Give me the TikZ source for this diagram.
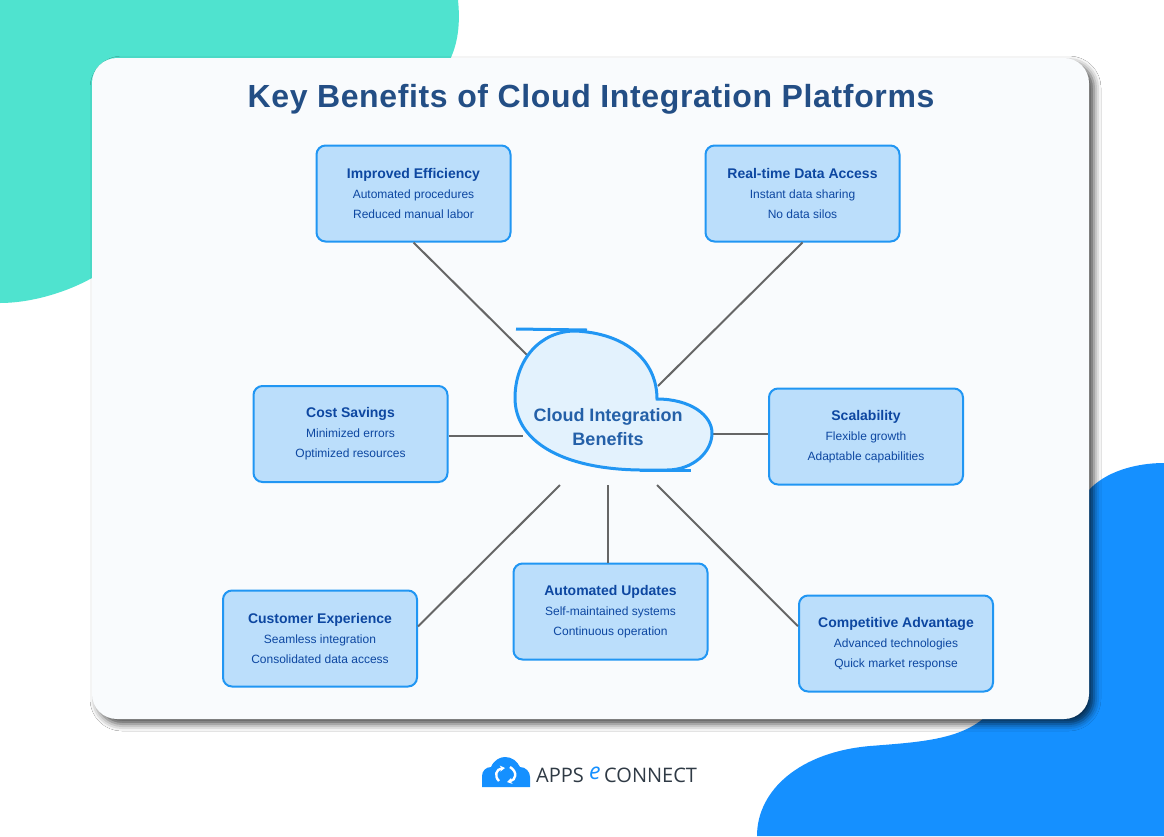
\documentclass[tikz,border=0pt]{standalone}
\usepackage{fontspec}
\setmainfont{Liberation Sans}
\newfontfamily\logofont{Open Sans}
\usetikzlibrary{shadows.blur,arrows.meta}

\definecolor{cTeal}{HTML}{4FE3CF}
\definecolor{cBlue}{HTML}{1590FF}
\definecolor{cCard}{HTML}{F9FBFD}
\definecolor{cBoxFill}{HTML}{BBDEFB}
\definecolor{cBoxLine}{HTML}{2196F3}
\definecolor{cCloudFill}{HTML}{E3F2FD}
\definecolor{cHead}{HTML}{0D47A1}
\definecolor{cTitle}{HTML}{234E85}
\definecolor{cCloudText}{HTML}{2460A8}
\definecolor{cConn}{HTML}{666666}
\definecolor{cLogo}{HTML}{2F3A45}

\tikzset{
    benefit/.style={draw=cBoxLine,fill=cBoxFill,line width=2pt,rounded corners=9pt,
        minimum width=194pt,minimum height=96pt,align=center,inner sep=0pt,
        text=cHead,font=\fontsize{12}{20}\selectfont},
    conn/.style={draw=cConn,line width=2pt}
}

\begin{document}
\begin{tikzpicture}[x=1pt,y=-1pt]

\useasboundingbox (0,0) rectangle (1164,836);
\fill[white] (0,0) rectangle (1164,836);

% background blobs
\fill[cTeal] (458,0) .. controls (461,30) and (456,48) .. (448,64) -- (92,278)
    .. controls (65,293) and (30,303) .. (0,303) -- (0,0) -- cycle;
\fill[cBlue] (757,836) .. controls (757,790) and (800,752) .. (870,746)
    .. controls (920,742) and (965,740) .. (990,712) -- (1089,490)
    .. controls (1105,472) and (1135,463) .. (1164,463) -- (1164,836) -- cycle;

% card
\fill[cCard,rounded corners=25pt,blur shadow={shadow xshift=5pt,shadow yshift=-5pt,
    shadow blur radius=7pt,shadow opacity=70}] (92,58) rectangle (1089,719);

\node (nTitle) at (591,99) {\fontsize{32}{38}\selectfont\bfseries\addfontfeature{LetterSpace=2}\color{cTitle}Key Benefits of Cloud Integration Platforms};

\coordinate (cCldNW) at (528,356);
\coordinate (cCldNE) at (658,386);
\coordinate (cCldW) at (523,436);
\coordinate (cCldE) at (712,434);
\coordinate (cCldSW) at (560,485);
\coordinate (cCldS) at (608,485);
\coordinate (cCldSE) at (657,485);

\foreach \n/\x/\y/\h/\a/\b in
{nEff/413.5/193.5/Improved Efficiency/Automated procedures/Reduced manual labor,
    nData/802.5/193.5/Real-time Data Access/Instant data sharing/No data silos,
    nCost/350.5/434/Cost Savings/Minimized errors/Optimized resources,
    nScale/866/436.5/Scalability/Flexible growth/Adaptable capabilities,
    nCust/320/638.5/Customer Experience/Seamless integration/Consolidated data access,
    nUpd/610.5/611.5/Automated Updates/Self-maintained systems/Continuous operation,
    nComp/896/643.5/Competitive Advantage/Advanced technologies/Quick market response
}
{
    \node[benefit] (\n) at (\x,\y) {{\fontsize{14}{20}\selectfont\bfseries \h}\\\a\\\b};
};

\draw[conn] (nEff.south) -- (cCldNW);
\draw[conn] (nData.south) -- (cCldNE);
\draw[conn] (nCost.east |- cCldW) -- (cCldW);
\draw[conn] (nScale.west |- cCldE) -- (cCldE);
\draw[conn] (nCust.7) -- (cCldSW);
\draw[conn] (nUpd.north -| cCldS) -- (cCldS);
\draw[conn] (nComp.170) -- (cCldSE);

% cloud
\filldraw[draw=cBoxLine,fill=cCloudFill,line width=3pt] (657,399)
    .. controls (657,360) and (625,333) .. (575,331)
    .. controls (540,331) and (515,360) .. (515,398)
    .. controls (515,440) and (560,469) .. (640,470) -- (667,470)
    .. controls (693,470) and (712,452) .. (712,433)
    .. controls (712,415) and (690,399) .. (657,399) -- cycle;
\draw[cBoxLine,line width=3pt] (516,329) -- (587,330);
\draw[cBoxLine,line width=3pt] (640,470) -- (691,470);
\node[align=center,text=cCloudText,font=\fontsize{18}{24}\selectfont\bfseries] (nCloud) at (608,427) {Cloud Integration\\Benefits};

% logo
\fill[cBlue] (482,787) -- (482,776) .. controls (482,771) and (486,767) .. (491,767)
    .. controls (494,760) and (500,757) .. (505,757)
    .. controls (512,757) and (517,761) .. (520,767)
    .. controls (526,767) and (530,772) .. (530,777) -- (530,787) -- cycle;
\draw[white,line width=2.4pt,-{Stealth[length=5pt,width=6pt]}] (499,781) .. controls (494,776) and (496,769) .. (505,768);
\draw[white,line width=2.4pt,-{Stealth[length=5pt,width=6pt]}] (510,767) .. controls (518,772) and (516,780) .. (507,782);
\node[anchor=west,inner sep=0pt,text=cLogo,font=\logofont\fontsize{20}{24}\selectfont] (nLogoA) at (536,775) {APPS};
\node[anchor=west,inner sep=0pt,text=cBlue,font=\logofont\itshape\fontsize{23}{24}\selectfont] (nLogoE) at (589,773.5) {e};
\node[anchor=west,inner sep=0pt,text=cLogo,font=\logofont\fontsize{20}{24}\selectfont] (nLogoB) at (604,775) {CONNECT};

\end{tikzpicture}
\end{document}
